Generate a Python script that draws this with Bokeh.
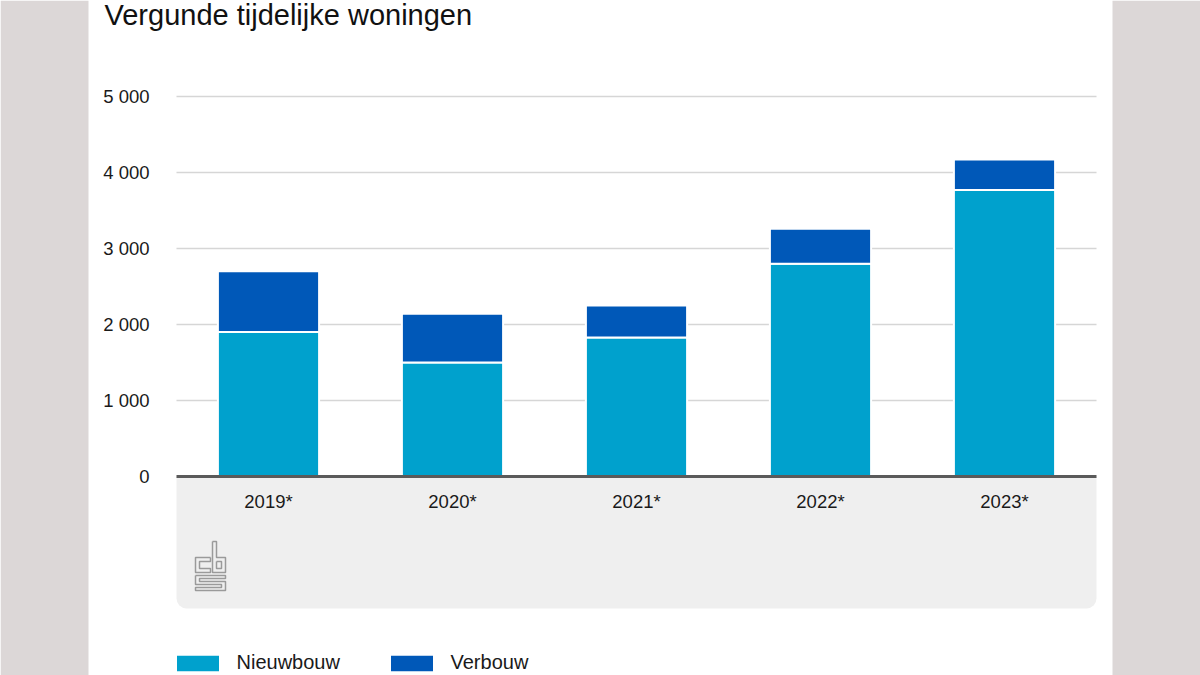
from bokeh.plotting import figure
from bokeh.models import ColumnDataSource, FixedTicker, Label, BoxAnnotation, Range1d
from bokeh.embed import file_html
from bokeh.resources import INLINE

# ---- data ----
years = ["2019*", "2020*", "2021*", "2022*", "2023*"]
nieuwbouw = [1900, 1500, 1830, 2800, 3770]
verbouw = [800, 640, 420, 460, 400]
series_names = ["Nieuwbouw", "Verbouw"]
y_ticks = [0, 1000, 2000, 3000, 4000, 5000]
y_tick_labels = ["0", "1 000", "2 000", "3 000", "4 000", "5 000"]
title_text = "Vergunde tijdelijke woningen"

# ---- styling / layout ----
C_NIEUW = "#00a1cd"
C_VER = "#0058b8"
SIDE = "#dcd7d7"
FONT = "Liberation Sans"
TXT = "#1a1a1a"

W, H = 1200, 675
PANEL_L, PANEL_R = 88, 1112        # white panel (px)
BAR_L, BAR_R = 176, 1096           # bar area (px)
ZERO_S = 476                       # px of value 0
PX_PER_UNIT = 0.076                # px per value unit
BOX_BOT = 608                      # bottom of the grey axis box (px)

n = len(years)
px_per_x = (BAR_R - BAR_L) / n
x_start = 0.5 - BAR_L / px_per_x
x_end = 0.5 + (W - BAR_L) / px_per_x
y_end = ZERO_S / PX_PER_UNIT
y_start = -(H - ZERO_S) / PX_PER_UNIT

def sx2x(sx):
    return 0.5 + (sx - BAR_L) / px_per_x

def sy2y(sy):
    return (ZERO_S - sy) / PX_PER_UNIT

xs = list(range(1, n + 1))
source = ColumnDataSource(dict(x=xs, nieuwbouw=nieuwbouw, verbouw=verbouw))

p = figure(width=W, height=H, output_backend="svg", toolbar_location=None,
           x_range=Range1d(x_start, x_end), y_range=Range1d(y_start, y_end),
           min_border_left=0, min_border_right=0, min_border_top=0, min_border_bottom=0)
p.outline_line_color = None
p.background_fill_color = "white"
p.border_fill_color = "white"
p.xgrid.visible = False
p.ygrid.visible = False

# grey page sides
p.quad(left=[x_start, sx2x(PANEL_R)], right=[sx2x(PANEL_L), x_end],
       bottom=[y_start, y_start], top=[y_end, y_end],
       fill_color=SIDE, line_color=None, level="underlay")

# grey box under the axis
box = BoxAnnotation(left=0.5, right=n + 0.5, bottom=sy2y(BOX_BOT), top=0,
                    fill_color="#efefef", fill_alpha=1, line_color=None, level="underlay",
                    border_radius=dict(top_left=0, top_right=0, bottom_right=10, bottom_left=10))
p.add_layout(box)

# horizontal grid lines over the bar area
grid_y = [t for t in y_ticks if t > 0]
p.segment(x0=[0.5] * len(grid_y), x1=[n + 0.5] * len(grid_y), y0=grid_y, y1=grid_y,
          line_color="#d6d6d6", line_width=1.5, level="underlay")

# bars
p.vbar_stack(["nieuwbouw", "verbouw"], x="x", width=0.55, source=source,
             color=[C_NIEUW, C_VER], line_color="white", line_width=2,
             legend_label=series_names)

# axes
yax = p.yaxis[0]
yax.fixed_location = 0.5
yax.ticker = FixedTicker(ticks=y_ticks)
yax.major_label_overrides = {t: l for t, l in zip(y_ticks, y_tick_labels)}
yax.axis_line_color = None
yax.major_tick_line_color = None
yax.minor_tick_line_color = None
yax.major_label_text_font = FONT
yax.major_label_text_font_size = "18.5px"
yax.major_label_text_color = TXT
yax.major_label_standoff = 21

xax = p.xaxis[0]
xax.fixed_location = 0
xax.bounds = (0.5, n + 0.5)
xax.ticker = FixedTicker(ticks=xs)
xax.major_label_overrides = {x: l for x, l in zip(xs, years)}
xax.axis_line_color = "#5a5a5a"
xax.axis_line_width = 3
xax.major_tick_line_color = None
xax.minor_tick_line_color = None
xax.major_label_text_font = FONT
xax.major_label_text_font_size = "18.5px"
xax.major_label_text_color = TXT
xax.major_label_standoff = 8

# title
p.add_layout(Label(x=sx2x(104), y=sy2y(14), text=title_text, text_font=FONT,
                   text_font_size="29px", text_color="#111111", text_baseline="alphabetic"))

# cbs logo (decorative outline)
ax, ay = 195, 541
logo_paths = [
    [(15, 16), (0, 16), (0, 31), (15, 31), (15, 27), (4, 27), (4, 20), (15, 20), (15, 16)],
    [(17, 0), (17, 31), (30, 31), (30, 16), (21, 16), (21, 0), (17, 0)],
    [(21, 20), (26, 20), (26, 27), (21, 27), (21, 20)],
    [(0, 34), (30, 34), (30, 37), (4, 37), (4, 40), (30, 40), (30, 49), (0, 49),
     (0, 46), (26, 46), (26, 43), (0, 43), (0, 34)],
]
p.multi_line([[sx2x(ax + a) for a, b in path] for path in logo_paths],
             [[sy2y(ay + b) for a, b in path] for path in logo_paths],
             line_color="#9a9a9a", line_width=1.5)

# legend (bokeh insets area swatches by 10% per side, hence the larger glyph box)
lg = p.legend[0]
lg.orientation = "horizontal"
lg.location = (BAR_L - 6.5, 1)
lg.glyph_width = 55
lg.glyph_height = 22
lg.label_standoff = 12
lg.label_width = 130
lg.spacing = 17
lg.padding = 0
lg.margin = 0
lg.border_line_color = None
lg.background_fill_alpha = 0
lg.label_text_font = FONT
lg.label_text_font_size = "20px"
lg.label_text_color = TXT

open("out.html", "w").write(file_html(p, INLINE))
